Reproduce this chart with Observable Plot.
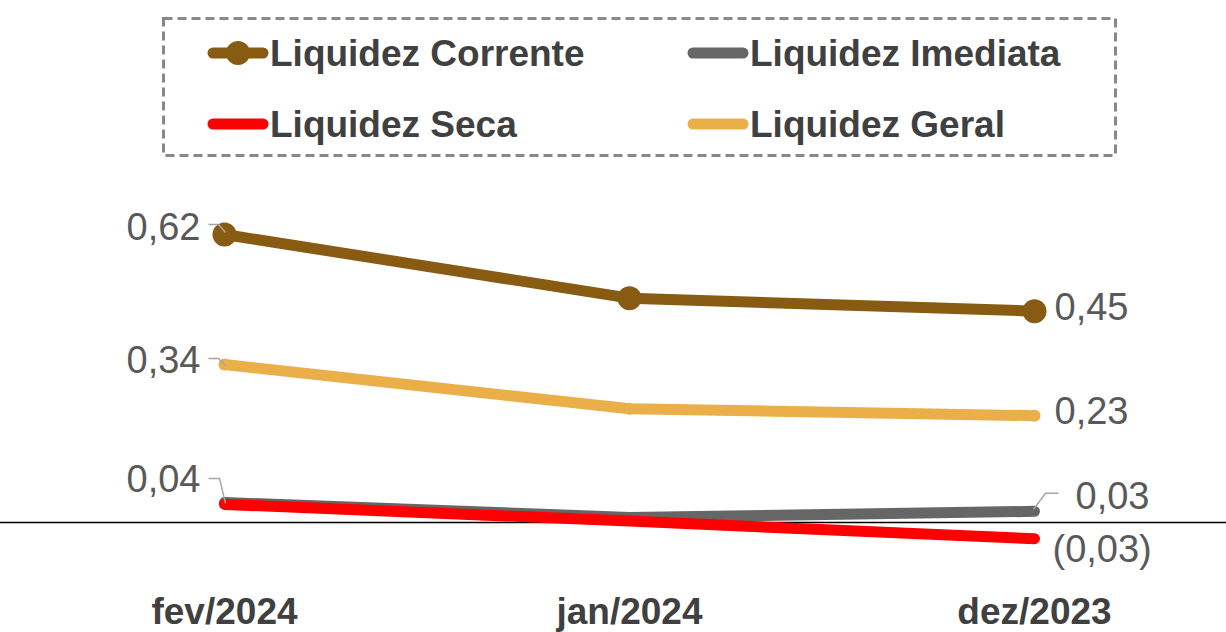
<!DOCTYPE html>
<html><head><meta charset="utf-8">
<script src="https://cdn.jsdelivr.net/npm/d3@7"></script>
<script src="https://cdn.jsdelivr.net/npm/@observablehq/plot@0.6"></script>
<style>
body{margin:0;background:#fff;font-family:"Liberation Sans",Arial,sans-serif;}
#wrap{position:relative;width:1226px;height:632px;overflow:hidden;}
#legend{position:relative;width:1226px;height:160px;}
#legend svg.box{position:absolute;left:0;top:0;}
.lt{position:absolute;font-weight:bold;font-size:37px;line-height:37px;color:#404040;white-space:nowrap;}
#chart svg{display:block;}
</style></head><body>
<div id="wrap"><div id="legend"></div><div id="chart"></div></div>
<script>
// ---- data ----
const categories = ["fev/2024", "jan/2024", "dez/2023"];
const seriesNames = ["Liquidez Corrente", "Liquidez Imediata", "Liquidez Seca", "Liquidez Geral"];
const corrente = [0.62, 0.483, 0.455];
const imediata = [0.043, 0.011, 0.024];
const seca = [0.039, 0.003, -0.035];
const geral = [0.34, 0.245, 0.23];
const firstLabels = ["0,62", "", "0,04", "0,34"];
const lastLabels = ["0,45", "0,03", "(0,03)", "0,23"];

// ---- styles ----
const colors = ["#875C12", "#666666", "#FF0000", "#EAAF48"];
const values = [corrente, imediata, seca, geral];
const rows = [];
seriesNames.forEach((s, i) => categories.forEach((c, j) => rows.push({series: s, cat: c, value: values[i][j]})));

// legend (HTML + small svg swatches)
const legend = document.getElementById("legend");
const items = [
  {name: seriesNames[0], color: colors[0], marker: true, sx: 208, tx: 270, y: 53, base: 66},
  {name: seriesNames[1], color: colors[1], marker: false, sx: 688, tx: 750, y: 53, base: 66},
  {name: seriesNames[2], color: colors[2], marker: false, sx: 208, tx: 270, y: 124, base: 137},
  {name: seriesNames[3], color: colors[3], marker: false, sx: 688, tx: 750, y: 124, base: 137}
];
const ns = "http://www.w3.org/2000/svg";
const box = document.createElementNS(ns, "svg");
box.setAttribute("class", "box"); box.setAttribute("width", 1226); box.setAttribute("height", 160);
let inner = `<rect x="163.5" y="18.5" width="952" height="137" fill="none" stroke="#888" stroke-width="3" stroke-dasharray="9 5"/>`;
for (const it of items) {
  inner += `<line x1="${it.sx + 5}" x2="${it.sx + 55}" y1="${it.y}" y2="${it.y}" stroke="${it.color}" stroke-width="11" stroke-linecap="round"/>`;
  if (it.marker) inner += `<circle cx="${it.sx + 30}" cy="${it.y}" r="12" fill="${it.color}"/>`;
}
box.innerHTML = inner;
legend.appendChild(box);
for (const it of items) {
  const sp = document.createElement("span");
  sp.className = "lt"; sp.textContent = it.name;
  sp.style.left = it.tx + "px"; sp.style.top = (it.base - 31) + "px";
  legend.appendChild(sp);
}

// label records
const labelRows = [];
seriesNames.forEach((s, i) => {
  if (firstLabels[i]) labelRows.push({key: "f" + i, series: s, cat: categories[0], value: values[i][0], text: firstLabels[i]});
  if (lastLabels[i]) labelRows.push({key: "l" + i, series: s, cat: categories[2], value: values[i][2], text: lastLabels[i]});
});
const labelStyle = {
  f0: {anchor: "end", dx: -24, dy: -7, leader: [[-16, -10], [-6, -10], [1, -2]]},
  f2: {anchor: "end", dx: -24, dy: -25, leader: [[-16, -26], [-5, -26], [1, -1]]},
  f3: {anchor: "end", dx: -24, dy: -4, leader: [[-16, -6], [-6, -6], [1, 1]]},
  l0: {anchor: "start", dx: 20, dy: -3},
  l1: {anchor: "start", dx: 41, dy: -15, leader: [[-1, -2], [11, -18], [24, -18]]},
  l2: {anchor: "start", dx: 18, dy: 11},
  l3: {anchor: "start", dx: 20, dy: -4}
};
const leaderSymbol = pts => ({draw(ctx) { ctx.moveTo(pts[0][0], pts[0][1]); for (const p of pts.slice(1)) ctx.lineTo(p[0], p[1]); }});

const labelMarks = [];
for (const d of labelRows) {
  const st = labelStyle[d.key];
  if (st.leader) labelMarks.push(Plot.dot([d], {x: "cat", y: "value", symbol: leaderSymbol(st.leader), r: 5, fill: "none", stroke: "#A6A6A6", strokeWidth: 1.5}));
  labelMarks.push(Plot.text([d], {x: "cat", y: "value", text: "text", textAnchor: st.anchor, dx: st.dx, dy: st.dy, fontSize: 38, fill: "#595959"}));
}

const zeroY = 362, pxPerUnit = 464.5;
const plot = Plot.plot({
  width: 1226, height: 472,
  marginLeft: 0, marginRight: 0, marginTop: 0, marginBottom: 0,
  x: {type: "point", domain: categories, range: [224, 1034], padding: 0, axis: null},
  y: {domain: [0, 1], range: [zeroY, zeroY - pxPerUnit], axis: null},
  color: {domain: seriesNames, range: colors},
  style: {fontFamily: "'Liberation Sans', Arial, sans-serif", background: "white", overflow: "visible"},
  marks: [
    Plot.ruleY([0], {stroke: "#000", strokeWidth: 1.5}),
    Plot.line(rows, {x: "cat", y: "value", z: "series", stroke: "series", strokeWidth: 11, strokeLinecap: "round", strokeLinejoin: "round"}),
    Plot.dot(rows.filter(d => d.series === seriesNames[0]), {x: "cat", y: "value", r: 12, fill: colors[0]}),
    Plot.dot(rows.filter(d => d.series === seriesNames[3]), {x: "cat", y: "value", r: 6, fill: colors[3]}),
    ...labelMarks,
    Plot.text(categories, {x: d => d, frameAnchor: "bottom", lineAnchor: "middle", dy: -20, text: d => d, fontSize: 37, fontWeight: "bold", fill: "#404040"})
  ]
});
document.getElementById("chart").appendChild(plot);
</script>
</body></html>
